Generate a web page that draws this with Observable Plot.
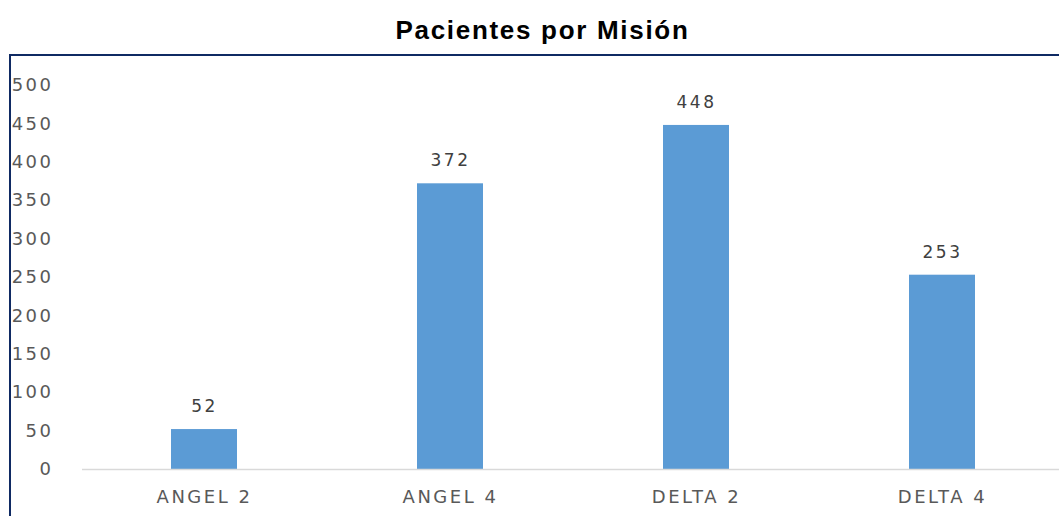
<!DOCTYPE html>
<html>
<head>
<meta charset="utf-8">
<script src="https://cdn.jsdelivr.net/npm/d3@7"></script>
<script src="https://cdn.jsdelivr.net/npm/@observablehq/plot@0.6"></script>
<style>
  html, body { margin: 0; padding: 0; background: #fff; width: 1059px; height: 516px; overflow: hidden; }
  #title {
    position: absolute; left: 0; top: 15px; width: 1059px; padding-left: 26px; box-sizing: border-box;
    text-align: center; font-family: "Liberation Sans", Arial, sans-serif; font-weight: bold;
    font-size: 26px; letter-spacing: 1.7px; color: #000;
  }
  #frame {
    position: absolute; left: 9px; top: 54px; width: 1060px; height: 480px;
    border-top: 2px solid #0f2a63; border-left: 2px solid #0f2a63;
  }
  #chart svg { display: block; }
  #chart svg text { letter-spacing: 2.5px; }
</style>
</head>
<body>
<div id="title">Pacientes por Misión</div>
<div id="frame"><div id="chart"></div></div>
<script>
const categories = ["ANGEL 2", "ANGEL 4", "DELTA 2", "DELTA 4"];
const patients = [52, 372, 448, 253];
const yTicks = [0, 50, 100, 150, 200, 250, 300, 350, 400, 450, 500];

const data = categories.map((c, i) => ({mision: c, pacientes: patients[i]}));

const chart = Plot.plot({
  width: 1048,
  height: 460,
  marginTop: 29,
  marginBottom: 47,
  marginLeft: 71,
  marginRight: 0,
  style: {fontFamily: "DejaVu Sans, sans-serif", fontSize: "18px", color: "#595959", background: "transparent"},
  x: {domain: categories, range: [69, 1056], paddingInner: 0.73, paddingOuter: 0.365, label: null},
  y: {domain: [0, 500], label: null},
  marks: [
    Plot.barY(data, {x: "mision", y: "pacientes", fill: "#5b9bd5"}),
    Plot.ruleY([0], {stroke: "#d9d9d9", strokeWidth: 1.5}),
    Plot.text(data, {x: "mision", y: "pacientes", text: d => String(d.pacientes), dy: -23, fill: "#404040", fontSize: 17}),
    Plot.axisY({ticks: yTicks, tickSize: 0, tickPadding: 29, fill: "#595959", label: null}),
    Plot.axisX({tickSize: 0, tickPadding: 21, fill: "#595959", label: null})
  ]
});
document.getElementById("chart").appendChild(chart);
</script>
</body>
</html>
